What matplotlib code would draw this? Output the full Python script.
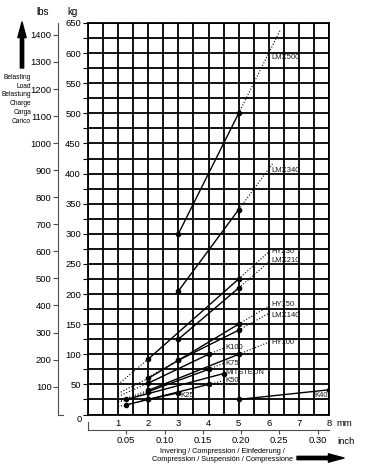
import numpy as np
import matplotlib
matplotlib.use("Agg")
import matplotlib.pyplot as plt

plt.rcParams.update({"font.family": "Liberation Sans", "font.size": 6.8})

# series: solid part (mm, kg) with dots, dotted extensions
LMX500_mm, LMX500_kg = [3, 5], [300, 500]
LMX340_mm, LMX340_kg = [3, 5], [205, 340]
HY230_mm, HY230_kg = [2, 5], [92, 225]
LMX210_mm, LMX210_kg = [3, 5], [125, 210]
HY150_mm, HY150_kg = [2, 3, 5], [60, 90, 150]
LMX140_mm, LMX140_kg = [3, 5], [90, 140]
HY100_mm, HY100_kg = [2, 5], [40, 100]
K100_mm, K100_kg = [2, 4], [52, 100]
K75_mm, K75_kg = [2, 4], [38, 75]
MIT_mm, MIT_kg = [1.27, 4.5], [25, 68]
K50_mm, K50_kg = [2, 4], [25, 50]
K25_mm, K25_kg = [1.27, 2, 3], [16, 25, 36]
K40_mm, K40_kg = [5, 8], [25, 41]

# dotted extensions: (from, to)
ext = [((5, 500), (6.4, 640)), ((5, 340), (6.15, 418)),
       ((5, 225), (6, 270)), ((1, 50), (2, 92)),
       ((5, 210), (6, 253)),
       ((5, 150), (6, 180)), ((1, 35), (2, 60)),
       ((5, 140), (6, 168)), ((2, 62), (3, 90)),
       ((5, 100), (6, 120)), ((1, 22), (2, 40)),
       ((4, 100), (4.5, 110)), ((1, 30), (2, 52)),
       ((4, 75), (4.5, 85)), ((1, 20), (2, 38)),
       ((4, 50), (4.5, 56)), ((1, 13), (2, 25))]

names = ["LMX500", "LMX340", "HY230", "LMX210", "HY150", "LMX140", "HY100",
         "K100", "K75", "MITSTEUN", "K50", "K25", "K40"]
lab_mm = [6.1, 6.1, 6.1, 6.1, 6.1, 6.1, 6.1, 4.55, 4.55, 4.55, 4.55, 3.05, 7.97]
lab_kg = [593, 405, 270, 255, 182, 165, 120, 112, 85, 69, 56, 31, 31]
series = [(LMX500_mm, LMX500_kg), (LMX340_mm, LMX340_kg), (HY230_mm, HY230_kg),
          (LMX210_mm, LMX210_kg), (HY150_mm, HY150_kg), (LMX140_mm, LMX140_kg),
          (HY100_mm, HY100_kg), (K100_mm, K100_kg), (K75_mm, K75_kg),
          (MIT_mm, MIT_kg), (K50_mm, K50_kg), (K25_mm, K25_kg), (K40_mm, K40_kg)]

W, H = 374, 475
fx = lambda px: px / W
fy = lambda py: 1 - py / H
L, R, T, B = 88, 329, 23, 414.5

fig = plt.figure(figsize=(W / 100, H / 100), dpi=100)
ax = fig.add_axes([fx(L), fy(B), (R - L) / W, (B - T) / H])
ax.set_xlim(0, 8); ax.set_ylim(0, 650)
ax.set_xticks(np.arange(0, 8.01, 0.5))
ax.set_xticklabels([str(int(v)) if v % 1 == 0 and v > 0 else "" for v in np.arange(0, 8.01, 0.5)])
ax.set_yticks(np.arange(0, 651, 25))
ax.set_yticklabels([str(int(v)) if v % 50 == 0 and v > 0 else "" for v in np.arange(0, 651, 25)])
ax.grid(True, color="k", lw=1.3)
ax.tick_params(axis="x", length=0, pad=3)
ax.tick_params(axis="y", length=3.5, width=0.8, pad=1.5)
for s in ax.spines.values(): s.set_linewidth(1.3)

for (xs, ys) in series:
    ax.plot(xs, ys, "-", color="k", lw=1.0, marker="o", ms=3, zorder=3)
for (a, b) in ext:
    ax.plot([a[0], b[0]], [a[1], b[1]], ":", color="k", lw=0.8, zorder=3)
for n, x, y in zip(names, lab_mm, lab_kg):
    ax.text(x, y, n, fontsize=5.5, va="center", ha="right" if n == "K40" else "left",
            color="0.1", zorder=4)

fig.text(fx(79), fy(419), "0", ha="center", va="center")
fig.text(fx(336), fy(424), "mm", ha="left", va="center")

# lbs axis
ax2 = fig.add_axes([fx(58.5), fy(B), 5 / W, (B - T) / H])
ax2.set_ylim(-3, 1444); ax2.patch.set_visible(False)
ax2.set_yticks(range(100, 1401, 100)); ax2.set_xticks([])
ax2.spines[["top", "right"]].set_visible(False)
ax2.spines["left"].set_color("0.3"); ax2.spines["bottom"].set_color("0.3")
ax2.tick_params(axis="y", length=3.5, width=0.8, pad=1.5, color="0.3")

# inch axis
ax3 = fig.add_axes([fx(L), fy(430), (R - L) / W, 8 / H])
ax3.set_xlim(0, 8 / 25.4); ax3.patch.set_visible(False)
ax3.set_xticks([0.05, 0.10, 0.15, 0.20, 0.25, 0.30])
ax3.set_xticklabels(["0.05", "0.10", "0.15", "0.20", "0.25", "0.30"])
ax3.set_yticks([])
ax3.spines[["top", "right"]].set_visible(False)
ax3.spines["left"].set_color("0.3"); ax3.spines["bottom"].set_color("0.3")
ax3.tick_params(axis="x", length=3, width=0.8, pad=1.5, color="0.3")
fig.text(fx(337), fy(441), "inch", ha="left", va="center")

fig.text(fx(43), fy(12), "lbs", ha="center", va="center", fontsize=7)
fig.text(fx(72), fy(12), "kg", ha="center", va="center", fontsize=7)
fig.text(fx(31), fy(74), "Belasting\nLoad\nBelastung\nCharge\nCarga\nCarico",
         ha="right", va="top", fontsize=4.8, linespacing=1.35)
fig.text(fx(293), fy(455.5), "Invering / Compression / Einfederung /\nCompression / Suspensión / Compressione",
         ha="right", va="center", fontsize=5.3, multialignment="center", linespacing=1.15)

arr = dict(arrowstyle="simple,head_length=1.4,head_width=0.75,tail_width=0.3",
           mutation_scale=8, color="k", shrinkA=0, shrinkB=0)
ax.annotate("", xy=(fx(22), fy(22)), xytext=(fx(22), fy(68)),
            xycoords="figure fraction", textcoords="figure fraction", arrowprops=arr)
ax.annotate("", xy=(fx(344), fy(458)), xytext=(fx(297), fy(458)),
            xycoords="figure fraction", textcoords="figure fraction", arrowprops=arr)

fig.savefig("out.png", dpi=100)
